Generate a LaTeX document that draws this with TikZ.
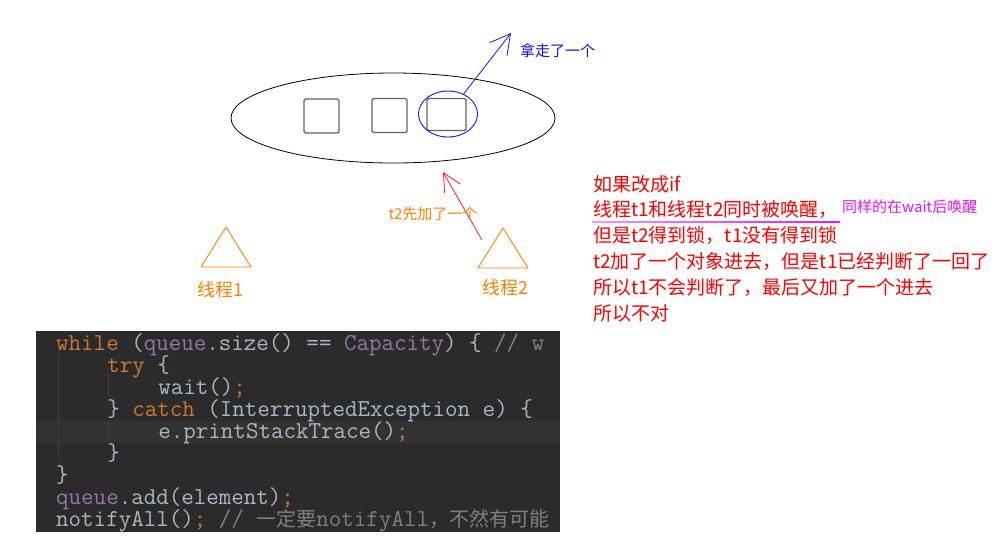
\documentclass[tikz,border=0pt]{standalone}
\usepackage{fontspec}
\newfontfamily\cjk{Noto Sans CJK SC}
\usepackage{xcolor}
\usepackage{tikz}
\usetikzlibrary{positioning, calc, arrows.meta, shapes.geometric}
\definecolor{NoteRed}{RGB}{255,0,0}
\definecolor{NotePink}{RGB}{228,20,255}
\definecolor{TakeBlue}{RGB}{20,20,230}
\definecolor{ThreadOrange}{RGB}{255,128,0}
\definecolor{ArrowRed}{RGB}{235,30,50}
\definecolor{BoxGray}{RGB}{100,100,100}
\definecolor{CodeBg}{RGB}{43,43,43}
\definecolor{CodeHl}{RGB}{50,50,50}
\definecolor{CodeGuide}{RGB}{62,62,62}
\definecolor{CodeKw}{RGB}{204,120,50}
\definecolor{CodeVar}{RGB}{152,118,170}
\definecolor{CodeTxt}{RGB}{169,183,198}
\definecolor{CodeCmt}{RGB}{128,128,128}
\tikzset{
    poolnode/.style={
        ellipse, draw=black, line width=0.8pt, minimum width=324, minimum height=90, inner sep=0pt
    },
    slotnode/.style={
        draw=BoxGray, line width=1.4pt, rounded corners=1.5pt, minimum width=35, minimum height=34, inner sep=0pt
    },
    ringnode/.style={
        ellipse, draw=TakeBlue, line width=0.9pt, minimum width=59, minimum height=46, inner sep=0pt
    },
    takeptr/.style={
        -{Straight Barb[length=20pt,width=22pt]}, line width=0.8pt, TakeBlue
    },
    addptr/.style={
        -{Straight Barb[length=18pt,width=18pt]}, line width=0.8pt, ArrowRed
    },
    threadlabel/.style={
        font=\cjk\fontsize{18}{20}\selectfont, text=ThreadOrange, inner sep=0pt
    },
    notetext/.style={
        font=\cjk\fontsize{19}{24}\selectfont, text=NoteRed, anchor=west, inner sep=0pt
    },
    smalltext/.style={
        font=\cjk\fontsize{15}{18}\selectfont, inner sep=0pt
    },
    codeline/.style={
        font=\ttfamily\fontsize{24.3}{22}\selectfont, text=CodeTxt, anchor=base west, inner sep=0pt
    }
}
\newcommand{\drawthread}[1]{
    \draw[ThreadOrange, line width=0.9pt, line join=round] (#1) -- ++(25,40) -- ++(-50,0) -- cycle;
}
\newcommand{\codekw}[1]{\textcolor{CodeKw}{#1}}
\newcommand{\codevar}[1]{\textcolor{CodeVar}{#1}}
\newcommand{\codecmt}[1]{\textcolor{CodeCmt}{#1}}
\newcommand{\codecjk}[1]{{\cjk\fontsize{20}{22}\selectfont #1}}

\begin{document}
\begin{tikzpicture}[x=1pt, y=-1pt]
    \useasboundingbox (0,0) rectangle (1001,547);

    % --- queue with three elements ---
    \node[poolnode] (pool) at (393,118) {};
    \node[slotnode] (slot1) at (321.5,116) {};
    \node[slotnode] (slot2) at (389.5,115.5) {};
    \node[slotnode, minimum width=39, minimum height=32] (slot3) at (446.5,114.5) {};
    \node[ringnode] (ring) at (448,114) {};

    % --- taken out ---
    \coordinate (taketip) at (511,33);
    \draw[takeptr] (ring) -- (taketip);
    \node[smalltext, anchor=west, text=TakeBlue] (taken) at (520,51) {拿走了一个};

    % --- t2 puts one ---
    \coordinate (addtail) at (482,240);
    \coordinate (addtip) at (443,172);
    \draw[addptr] (addtail) -- (addtip);
    \node[smalltext, text=ThreadOrange] (added) at (433,214) {t2先加了一个};

    % --- threads ---
    \coordinate (apex1) at (226,227);
    \coordinate (apex2) at (503,228);
    \drawthread{apex1}
    \drawthread{apex2}
    \node[threadlabel] (thread1) at (220,290) {线程1};
    \node[threadlabel] (thread2) at (505,288) {线程2};

    % --- notes ---
    \foreach \txt [count=\i from 0] in {如果改成if, 线程t1和线程t2同时被唤醒，, 但是t2得到锁，t1没有得到锁,
        t2加了一个对象进去，但是t1已经判断了一回了, 所以t1不会判断了，最后又加了一个进去, 所以不对}
        \node[notetext] (note\i) at (593,{184+25.8*\i}) {\txt};
    \shade[left color=NotePink!45, right color=NotePink] (592,221.4) rectangle (840,222.8);
    \node[smalltext, anchor=west, text=NotePink] (same) at (842,207) {同样的在wait后唤醒};

    % --- code ---
    \fill[CodeBg] (36,331) rectangle (560,532);
    \fill[CodeHl] (36,421) rectangle (560,443);
    \draw[CodeGuide, line width=0.8pt] (58,353) -- (58,462);
    \draw[CodeGuide, line width=0.8pt] (108,375) -- (108,397);
    \draw[CodeGuide, line width=0.8pt] (108,420) -- (108,440);
    \begin{scope}
        \clip (36,331) rectangle (560,532);
        \node[codeline] (c0) at (56,350) {\codekw{while} (\codevar{queue}.size() == \codevar{Capacity}) \{ \codecmt{// w}};
        \node[codeline] (c1) at (107.1,372) {\codekw{try} \{};
        \node[codeline] (c2) at (158.2,394) {wait()\codekw{;}};
        \node[codeline] (c3) at (107.1,416) {\} \codekw{catch} (InterruptedException e) \{};
        \node[codeline] (c4) at (158.2,438) {e.printStackTrace()\codekw{;}};
        \node[codeline] (c5) at (107.1,460) {\}};
        \node[codeline] (c6) at (56,482) {\}};
        \node[codeline] (c7) at (56,504) {\codevar{queue}.add(element)\codekw{;}};
        \node[codeline] (c8) at (56,526) {notifyAll()\codekw{;} \codecmt{// \codecjk{一定要}notifyAll\codecjk{，不然有可能}}};
    \end{scope}

\end{tikzpicture}
\end{document}
